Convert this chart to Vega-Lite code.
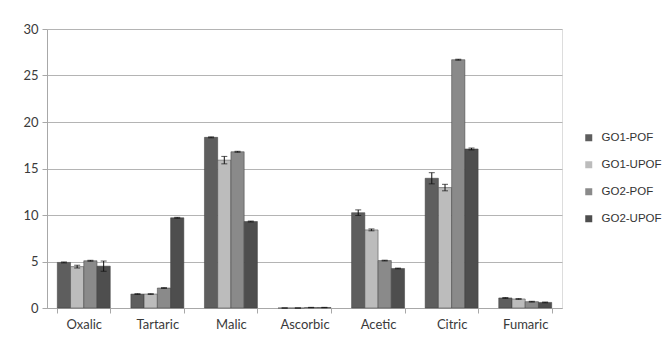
{
  "$schema": "https://vega.github.io/schema/vega-lite/v6.json",
  "width": 515,
  "height": 279,
  "autosize": "none",
  "padding": {"left": 47, "top": 29, "right": 105, "bottom": 30},
  "background": "white",
  "data": {
    "values": [
      {"acid": "Oxalic", "series": "GO1-POF", "value": 4.9, "err": 0.05},
      {"acid": "Oxalic", "series": "GO1-UPOF", "value": 4.45, "err": 0.15},
      {"acid": "Oxalic", "series": "GO2-POF", "value": 5.08, "err": 0.05},
      {"acid": "Oxalic", "series": "GO2-UPOF", "value": 4.5, "err": 0.55},
      {"acid": "Tartaric", "series": "GO1-POF", "value": 1.5, "err": 0.04},
      {"acid": "Tartaric", "series": "GO1-UPOF", "value": 1.5, "err": 0.04},
      {"acid": "Tartaric", "series": "GO2-POF", "value": 2.15, "err": 0.04},
      {"acid": "Tartaric", "series": "GO2-UPOF", "value": 9.7, "err": 0.05},
      {"acid": "Malic", "series": "GO1-POF", "value": 18.35, "err": 0.05},
      {"acid": "Malic", "series": "GO1-UPOF", "value": 15.9, "err": 0.4},
      {"acid": "Malic", "series": "GO2-POF", "value": 16.8, "err": 0.05},
      {"acid": "Malic", "series": "GO2-UPOF", "value": 9.3, "err": 0.05},
      {"acid": "Ascorbic", "series": "GO1-POF", "value": 0, "err": 0},
      {"acid": "Ascorbic", "series": "GO1-UPOF", "value": 0, "err": 0},
      {"acid": "Ascorbic", "series": "GO2-POF", "value": 0.05, "err": 0.02},
      {"acid": "Ascorbic", "series": "GO2-UPOF", "value": 0.05, "err": 0.02},
      {"acid": "Acetic", "series": "GO1-POF", "value": 10.25, "err": 0.3},
      {"acid": "Acetic", "series": "GO1-UPOF", "value": 8.4, "err": 0.1},
      {"acid": "Acetic", "series": "GO2-POF", "value": 5.1, "err": 0.04},
      {"acid": "Acetic", "series": "GO2-UPOF", "value": 4.25, "err": 0.04},
      {"acid": "Citric", "series": "GO1-POF", "value": 13.95, "err": 0.6},
      {"acid": "Citric", "series": "GO1-UPOF", "value": 12.95, "err": 0.35},
      {"acid": "Citric", "series": "GO2-POF", "value": 26.7, "err": 0.05},
      {"acid": "Citric", "series": "GO2-UPOF", "value": 17.1, "err": 0.1},
      {"acid": "Fumaric", "series": "GO1-POF", "value": 1.08, "err": 0.04},
      {"acid": "Fumaric", "series": "GO1-UPOF", "value": 0.97, "err": 0.04},
      {"acid": "Fumaric", "series": "GO2-POF", "value": 0.68, "err": 0.04},
      {"acid": "Fumaric", "series": "GO2-UPOF", "value": 0.6, "err": 0.04}
    ]
  },
  "transform": [
    {"calculate": "datum.value - datum.err", "as": "lo"},
    {"calculate": "datum.value + datum.err", "as": "hi"}
  ],
  "encoding": {
    "x": {
      "field": "acid",
      "type": "nominal",
      "sort": ["Oxalic", "Tartaric", "Malic", "Ascorbic", "Acetic", "Citric", "Fumaric"],
      "scale": {"paddingInner": 0.28, "paddingOuter": 0.14},
      "axis": {
        "title": null,
        "labelAngle": 0,
        "tickBand": "extent",
        "domainColor": "#a8a8a8",
        "tickColor": "#a8a8a8",
        "tickSize": 5,
        "labelFont": "Lato",
        "labelFontSize": 13,
        "labelColor": "#3a3a3a",
        "labelPadding": 5
      }
    },
    "xOffset": {
      "field": "series",
      "type": "nominal",
      "sort": ["GO1-POF", "GO1-UPOF", "GO2-POF", "GO2-UPOF"],
      "scale": {"paddingInner": 0, "paddingOuter": 0}
    }
  },
  "layer": [
    {
      "mark": {"type": "bar", "stroke": "#3c3c3c", "strokeWidth": 0.5},
      "encoding": {
        "y": {
          "field": "value",
          "type": "quantitative",
          "scale": {"domain": [0, 30], "nice": false},
          "axis": {
            "title": null,
            "values": [0, 5, 10, 15, 20, 25, 30],
            "grid": true,
            "gridColor": "#b4b4b4",
            "domainColor": "#a8a8a8",
            "tickColor": "#a8a8a8",
            "tickSize": 5,
            "labelFont": "Lato",
            "labelFontSize": 13,
            "labelColor": "#3a3a3a",
            "labelPadding": 4
          }
        },
        "color": {
          "field": "series",
          "type": "nominal",
          "sort": ["GO1-POF", "GO1-UPOF", "GO2-POF", "GO2-UPOF"],
          "scale": {
            "domain": ["GO1-POF", "GO1-UPOF", "GO2-POF", "GO2-UPOF"],
            "range": ["#5e5e5e", "#bcbcbc", "#8a8a8a", "#4e4e4e"]
          },
          "legend": {
            "title": null,
            "orient": "none",
            "legendX": 536,
            "legendY": 103,
            "padding": 0,
            "symbolType": "square",
            "symbolSize": 49,
            "symbolStrokeWidth": 0,
            "labelFont": "Liberation Sans",
            "labelFontSize": 11.5,
            "labelColor": "#333333",
            "labelOffset": 7,
            "rowPadding": 14
          }
        }
      }
    },
    {
      "mark": {"type": "rule", "color": "#111111", "strokeWidth": 1},
      "encoding": {
        "y": {"field": "lo", "type": "quantitative"},
        "y2": {"field": "hi"}
      }
    },
    {
      "mark": {"type": "tick", "color": "#111111", "thickness": 1, "size": 6},
      "encoding": {"y": {"field": "lo", "type": "quantitative"}}
    },
    {
      "mark": {"type": "tick", "color": "#111111", "thickness": 1, "size": 6},
      "encoding": {"y": {"field": "hi", "type": "quantitative"}}
    }
  ]
}
